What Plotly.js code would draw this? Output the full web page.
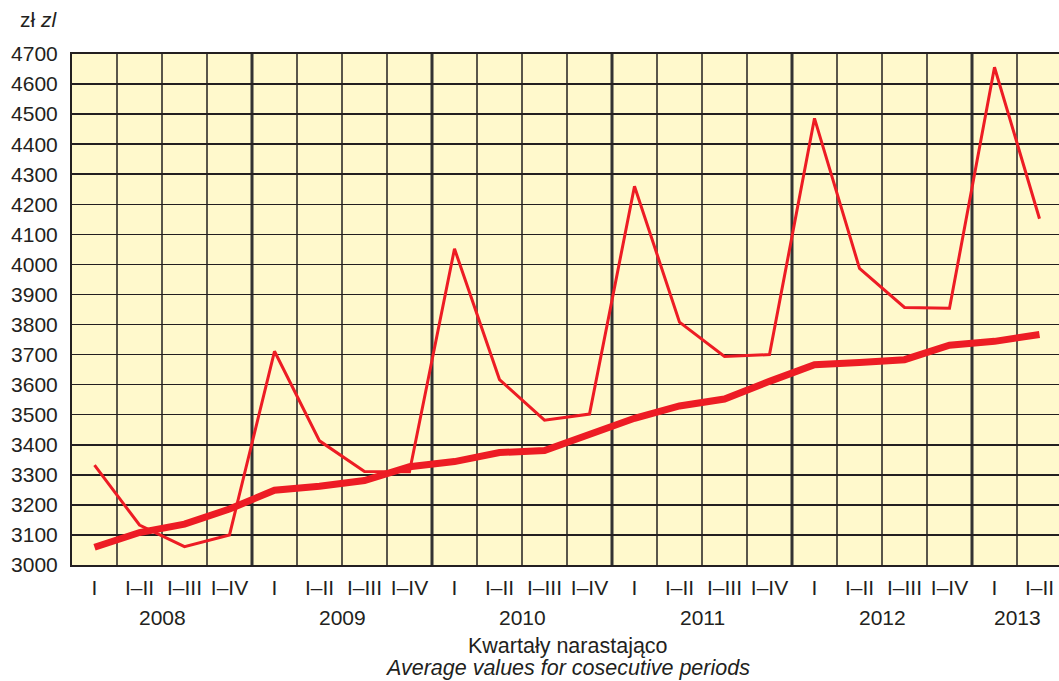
<!DOCTYPE html>
<html>
<head>
<meta charset="utf-8">
<script src="https://cdn.plot.ly/plotly-3.0.1.min.js"></script>
<style>html,body{margin:0;padding:0;background:#fff;}#chart{width:1059px;height:681px;}</style>
</head>
<body>
<div id="chart"></div>
<script>
const years = ['2008', '2009', '2010', '2011', '2012', '2013'];
const periodsPerYear = [4, 4, 4, 4, 4, 2];
const periodLabels = ['I', 'I–II', 'I–III', 'I–IV'];
const quarterlyValues = [3332, 3133, 3061, 3100, 3711, 3413, 3311, 3310, 4052, 3617, 3482, 3502,
                         4260, 3808, 3694, 3700, 4486, 3987, 3857, 3854, 4656, 4152];
const averageValues = [3059, 3108, 3136, 3186, 3249, 3262, 3281, 3327, 3344, 3374, 3381, 3436,
                       3488, 3529, 3552, 3611, 3666, 3674, 3683, 3731, 3744, 3767];

const tickText = [];
const yearCenters = [];
const yearBounds = [];
let idx = 0;
periodsPerYear.forEach((n, yi) => {
  for (let k = 0; k < n; k++) tickText.push(periodLabels[k]);
  yearCenters.push(idx + (n - 1) / 2);
  idx += n;
  if (yi < periodsPerYear.length - 1) yearBounds.push(idx - 0.5);
});
const xIdx = tickText.map((_, i) => i);

const red = '#ed1c24';
const txt = '#231f20';
const font = 'Liberation Sans, Arial, Helvetica, sans-serif';

const shapes = [];
for (let i = 0; i < xIdx.length - 1; i++) {
  const b = i + 0.5;
  const isYear = yearBounds.includes(b);
  shapes.push({
    type: 'line', xref: 'x', yref: 'paper', x0: b, x1: b, y0: 0, y1: 1,
    line: {color: isYear ? '#333333' : '#231f20', width: isYear ? 3 : 1.5},
    layer: 'below'
  });
}

const annotations = years.map((y, i) => ({
  text: y, x: yearCenters[i], xref: 'x', y: 0, yref: 'paper',
  yanchor: 'middle', yshift: -52, showarrow: false,
  font: {family: font, size: 21, color: txt}
}));
annotations.push({
  text: 'Kwartały narastająco', x: 0.5, xref: 'paper', y: 0, yref: 'paper',
  xshift: 2, yanchor: 'middle', yshift: -81, showarrow: false, borderpad: 0,
  font: {family: font, size: 21.5, color: txt}
});
annotations.push({
  text: '<i>Average values for cosecutive periods</i>', x: 0.5, xref: 'paper', y: 0, yref: 'paper',
  xshift: 2, yanchor: 'middle', yshift: -103, showarrow: false, borderpad: 0,
  font: {family: font, size: 21.5, color: txt}
});

const traces = [
  {x: xIdx, y: averageValues, type: 'scatter', mode: 'lines',
   line: {color: red, width: 7}, hoverinfo: 'skip'},
  {x: xIdx, y: quarterlyValues, type: 'scatter', mode: 'lines',
   line: {color: red, width: 3}, hoverinfo: 'skip'}
];

const layout = {
  width: 1059, height: 681,
  margin: {l: 72, r: 0, t: 54, b: 116},
  paper_bgcolor: '#ffffff',
  plot_bgcolor: '#fff9cc',
  showlegend: false,
  title: {text: 'zł <i>zl</i>', x: 20 / 1059, xanchor: 'left', xref: 'container',
          y: 1 - 20 / 681, yanchor: 'middle', yref: 'container',
          font: {family: font, size: 21, color: txt}},
  xaxis: {
    range: [-0.5, -0.5 + 987 / 45], tickvals: xIdx, ticktext: tickText,
    showgrid: false, zeroline: false, ticks: '',
    showline: true, mirror: true, linecolor: '#231f20', linewidth: 2,
    ticklabelstandoff: 3,
    tickfont: {family: font, size: 21, color: txt}, fixedrange: true
  },
  yaxis: {
    range: [3000, 4700], dtick: 100, tick0: 3000,
    showgrid: true, gridcolor: '#231f20', gridwidth: 1.5, zeroline: false,
    ticks: '', showline: true, linecolor: '#231f20', linewidth: 2,
    ticklabelstandoff: 8,
    tickfont: {family: font, size: 21, color: txt}, fixedrange: true
  },
  shapes: shapes,
  annotations: annotations
};

Plotly.newPlot('chart', traces, layout, {displayModeBar: false, staticPlot: true});
</script>
</body>
</html>
